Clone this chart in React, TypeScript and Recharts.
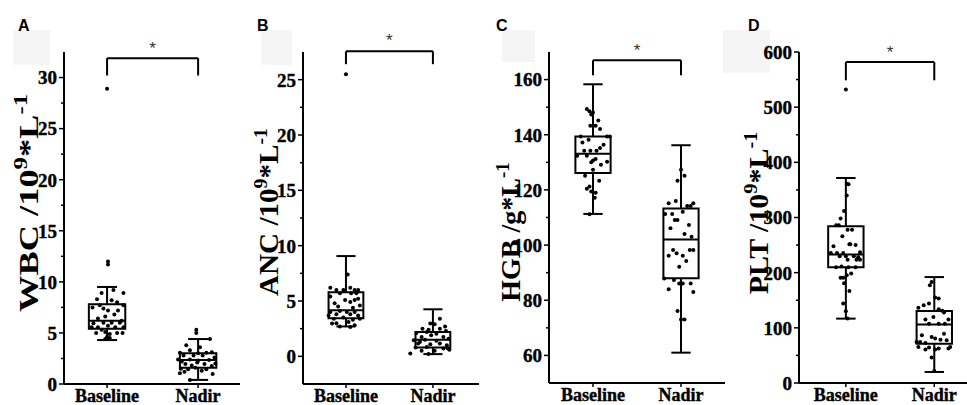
import React from 'react';
import { ComposedChart, Scatter, XAxis, YAxis, ReferenceArea, ReferenceLine, ReferenceDot } from 'recharts';

// ---------- data ----------
const categories = ['Baseline', 'Nadir'];

// [value, horizontal jitter in category units]
const wbcBaseline: [number, number][] = [
  [28.9, 0.0], [12.0, 0.01], [11.7, 0.01], [8.9, -0.06], [9.2, 0.07], [8.9, 0.18],
  [8.3, -0.11], [8.2, 0.05], [8.0, 0.11], [7.5, -0.16], [7.7, -0.08], [7.4, -0.04],
  [7.2, 0.01], [7.2, 0.12], [7.7, 0.18], [6.6, -0.02], [6.4, -0.1], [5.95, -0.15],
  [6.0, -0.04], [6.0, 0.05], [6.0, 0.14], [5.55, -0.17], [5.55, -0.1], [5.7, 0.01],
  [5.55, 0.09], [5.55, 0.18], [5.0, -0.12], [5.1, -0.02], [4.9, 0.03], [5.0, 0.11],
  [5.0, 0.17], [4.6, 0.0], [4.5, 0.03], [4.4, -0.02], [6.8, 0.08], [5.3, -0.06], [6.2, 0.16],
];
const wbcNadir: [number, number][] = [
  [5.3, -0.02], [5.0, -0.02], [4.4, 0.13], [3.8, -0.13], [3.6, 0.02], [3.3, -0.09],
  [3.07, -0.2], [3.07, 0.09], [3.1, 0.15], [2.8, -0.16], [2.8, -0.05], [2.8, 0.05],
  [2.4, -0.22], [2.4, -0.09], [2.3, 0.0], [2.35, 0.12], [1.96, -0.14], [2.1, -0.01],
  [1.96, 0.07], [1.76, 0.15], [1.5, -0.19], [1.45, -0.11], [1.6, -0.03], [1.45, 0.09],
  [1.05, -0.2], [1.2, -0.15], [0.98, 0.16], [0.4, -0.09], [2.6, 0.18], [2.2, -0.18],
  [1.8, -0.07], [3.0, 0.0], [1.3, 0.04], [2.0, 0.19],
];
// [lower whisker, Q1, median, Q3, upper whisker]
const wbcBaselineBox = [4.3, 5.4, 6.2, 7.8, 9.5];
const wbcNadirBox = [0.4, 1.6, 2.35, 3.0, 4.4];

const ancBaseline: [number, number][] = [
  [25.5, 0.0], [7.4, 0.02], [6.2, -0.18], [6.0, -0.11], [6.0, -0.03], [6.2, 0.05],
  [6.0, 0.1], [6.0, 0.14], [5.7, -0.07], [5.7, 0.06], [5.7, 0.12], [5.4, -0.18],
  [5.1, -0.01], [5.1, 0.1], [5.2, 0.14], [4.8, -0.13], [4.9, 0.05], [4.5, -0.09],
  [4.4, 0.08], [4.6, 0.16], [4.0, -0.18], [4.1, -0.07], [4.0, 0.01], [4.0, 0.1],
  [3.7, -0.2], [3.8, -0.11], [3.8, 0.05], [3.7, 0.14], [3.4, -0.14], [3.5, -0.03],
  [3.3, 0.08], [3.4, 0.16], [3.0, -0.11], [3.1, 0.03], [2.96, -0.16], [2.7, -0.07],
  [2.65, 0.05], [2.8, 0.1],
];
const ancNadir: [number, number][] = [
  [3.4, 0.08], [2.96, -0.03], [2.9, 0.02], [2.5, -0.12], [2.4, -0.05], [2.5, 0.08],
  [2.1, -0.19], [2.2, -0.07], [2.05, 0.04], [1.75, -0.13], [1.9, -0.02], [1.75, 0.12],
  [1.45, -0.22], [1.5, -0.09], [1.4, 0.04], [1.15, -0.17], [1.1, -0.03], [1.15, 0.08],
  [1.0, 0.16], [0.8, -0.2], [0.85, -0.07], [0.7, 0.12], [0.7, 0.17], [0.5, -0.13],
  [0.5, 0.02], [0.25, -0.26], [0.2, -0.05], [2.7, 0.14], [1.6, 0.18], [1.3, -0.15],
  [0.6, 0.19], [2.3, 0.15],
];
const ancBaselineBox = [2.7, 3.44, 4.17, 5.8, 9.06];
const ancNadirBox = [0.2, 0.8, 1.5, 2.2, 4.25];

const hgbBaseline: [number, number][] = [
  [149.3, -0.07], [148.5, -0.04], [148.1, 0.0], [147.3, -0.02], [145.2, 0.06], [143.3, -0.03],
  [143.3, 0.03], [142.1, 0.08], [139.4, -0.14], [139.4, 0.16], [139.4, 0.19], [137.2, -0.12],
  [138.2, -0.05], [136.4, 0.12], [135.2, 0.08], [134.2, -0.1], [134.2, -0.03], [134.2, 0.04],
  [132.4, -0.18], [132.4, -0.07], [130.7, 0.0], [131.2, 0.03], [130.0, -0.02], [129.1, 0.09],
  [130.2, 0.16], [127.3, 0.0], [125.1, -0.09], [123.3, 0.07], [121.2, -0.04], [120.4, -0.07],
  [119.4, -0.02], [119.0, 0.03], [117.2, 0.02], [111.2, -0.04],
];
const hgbNadir: [number, number][] = [
  [127.3, 0.0], [125.1, 0.04], [123.3, -0.04], [115.2, -0.14], [116.0, -0.06], [114.2, 0.07],
  [114.2, 0.11], [115.2, 0.14], [111.3, -0.18], [111.3, -0.1], [112.1, 0.02], [109.1, -0.07],
  [109.1, -0.04], [107.3, 0.09], [106.1, -0.12], [104.0, 0.04], [103.0, 0.12], [98.2, -0.09],
  [97.0, -0.05], [96.1, -0.14], [98.2, 0.1], [98.2, 0.14], [96.1, 0.02], [94.2, 0.06],
  [92.1, -0.02], [87.9, -0.19], [87.3, -0.08], [86.1, -0.02], [86.1, 0.02], [86.1, 0.11],
  [84.0, -0.14], [83.0, 0.14], [76.1, -0.04], [73.0, 0.04], [73.0, 0.0],
];
const hgbBaselineBox = [111.3, 126.1, 133.1, 139.4, 158.3];
const hgbNadirBox = [61, 88, 102, 113.3, 136.2];

const pltBaseline: [number, number][] = [
  [531.8, 0.0], [361.4, 0.01], [360.1, 0.03], [340, 0.01], [311.8, -0.02], [298, -0.06],
  [285.8, -0.11], [285.8, -0.08], [278, 0.02], [278, 0.07], [266, -0.04], [251.4, 0.04],
  [251.4, 0.05], [247.8, -0.14], [250, 0.11], [235.6, -0.17], [235.6, -0.1], [235.6, -0.03],
  [237, 0.16], [229.7, -0.07], [229.7, 0.0], [229.7, 0.09], [228, 0.14], [223.6, 0.02],
  [223.6, 0.12], [223.6, 0.16], [210, -0.11], [211, -0.05], [210, 0.03], [210, 0.11],
  [191, -0.06], [191, -0.03], [195.2, 0.01], [198.3, 0.06], [181, -0.02], [166.7, 0.04],
  [143.9, -0.03], [130, 0.0], [116.7, 0.02],
];
const pltNadir: [number, number][] = [
  [177, -0.05], [183, -0.03], [154.8, 0.01], [153, 0.05], [136.6, -0.18], [140.8, -0.12],
  [143.9, -0.06], [133.6, 0.05], [128, 0.11], [131, 0.09], [115, -0.1], [119.7, -0.01],
  [115, 0.16], [107.6, -0.06], [107.6, 0.05], [107.6, 0.12], [86.4, -0.14], [83.4, -0.03],
  [80.5, 0.01], [78.6, 0.07], [77.4, 0.14], [89.5, 0.11], [74.3, -0.2], [74.3, -0.16],
  [72.5, -0.1], [65.3, -0.18], [60.5, -0.1], [64.2, -0.06], [60.5, 0.01], [62.4, 0.05],
  [62.4, 0.16], [65.3, 0.18], [46, -0.03], [21.7, 0.0],
];
const pltBaselineBox = [116.7, 210, 233, 284, 371.6];
const pltNadirBox = [20, 71, 106, 130.5, 192];

const wbcTicks = [0, 5, 10, 15, 20, 25, 30];
const wbcMinor = [2.5, 7.5, 12.5, 17.5, 22.5, 27.5];
const ancTicks = [0, 5, 10, 15, 20, 25];
const ancMinor = [2.5, 7.5, 12.5, 17.5, 22.5];
const hgbTicks = [60, 80, 100, 120, 140, 160];
const hgbMinor = [70, 90, 110, 130, 150];
const pltTicks = [0, 100, 200, 300, 400, 500, 600];
const pltMinor = [50, 150, 250, 350, 450, 550];

// ---------- styling ----------
const INK = '#000000';
const SERIF = '"Liberation Serif", "Times New Roman", serif';
const SANS = '"Liberation Sans", Arial, sans-serif';
const AXIS_X = 64; // width reserved for the y-axis (chart-local x of its line)
const BOX_HALF = 0.2;
const CAP_HALF = 0.11;

type PanelCfg = {
  left: number;
  width: number;
  plotBottom: number;
  xDomain: [number, number];
  yDomain: [number, number];
  ticks: number[];
  minor: number[];
  groups: { pts: [number, number][]; box: number[] }[];
  labelParts: { t: string; sup?: boolean }[];
  labelX: number;
  labelY: number;
  labelStretch: number;
  bracket: [number, number];
  starY: number;
};

const panels: PanelCfg[] = [
  {
    left: 0, width: 240, plotBottom: 384, xDomain: [0.527, 2.46], yDomain: [0, 32.5],
    ticks: wbcTicks, minor: wbcMinor,
    groups: [{ pts: wbcBaseline, box: wbcBaselineBox }, { pts: wbcNadir, box: wbcNadirBox }],
    labelParts: [{ t: 'WBC /10' }, { t: '9', sup: true }, { t: '*L' }, { t: '-1', sup: true }],
    labelX: 38, labelY: 203, labelStretch: 1.3, bracket: [31.9, 30.2], starY: 33.3,
  },
  {
    left: 239, width: 240, plotBottom: 384, xDomain: [0.506, 2.53], yDomain: [-2.5, 27.5],
    ticks: ancTicks, minor: ancMinor,
    groups: [{ pts: ancBaseline, box: ancBaselineBox }, { pts: ancNadir, box: ancNadirBox }],
    labelParts: [{ t: 'ANC /10' }, { t: '9', sup: true }, { t: '*L' }, { t: '-1', sup: true }],
    labelX: 39, labelY: 212, labelStretch: 1.04, bracket: [27.56, 26.4], starY: 29.0,
  },
  {
    left: 485, width: 240, plotBottom: 383, xDomain: [0.5, 2.5], yDomain: [50, 170],
    ticks: hgbTicks, minor: hgbMinor,
    groups: [{ pts: hgbBaseline, box: hgbBaselineBox }, { pts: hgbNadir, box: hgbNadirBox }],
    labelParts: [{ t: 'HGB /g*L' }, { t: '-1', sup: true }],
    labelX: 35, labelY: 232, labelStretch: 1.0, bracket: [167, 161.6], starY: 172.4,
  },
  {
    left: 735, width: 232, plotBottom: 383, xDomain: [0.47, 2.37], yDomain: [0, 600],
    ticks: pltTicks, minor: pltMinor,
    groups: [{ pts: pltBaseline, box: pltBaselineBox }, { pts: pltNadir, box: pltNadirBox }],
    labelParts: [{ t: 'PLT /10' }, { t: '9', sup: true }, { t: '*L' }, { t: '-1', sup: true }],
    labelX: 33, labelY: 213, labelStretch: 1.07, bracket: [581.8, 548.7], starY: 608,
  },
];

const letters = [
  { t: 'A', x: 18 }, { t: 'B', x: 257 }, { t: 'C', x: 496 }, { t: 'D', x: 748 },
];
const shades = [
  { x: 13, y: 30, w: 37, h: 35 }, { x: 261, y: 30, w: 31, h: 35 },
  { x: 502, y: 30, w: 33, h: 32 }, { x: 723, y: 30, w: 47, h: 43 },
];

function YLabel({ cfg }: { cfg: PanelCfg }) {
  let dyState = 0;
  return (
    <text
      transform={`translate(${cfg.labelX},${cfg.labelY}) rotate(-90) scale(${cfg.labelStretch},1)`}
      textAnchor="middle"
      fontFamily={SERIF}
      fontWeight="bold"
      fontSize={28}
      fill={INK}
    >
      {cfg.labelParts.map((p, i) => {
        const target = p.sup ? -11 : 0;
        const dy = target - dyState;
        dyState = target;
        return (
          <tspan key={i} dy={dy} fontSize={p.sup ? 19 : 28}>
            {p.t}
          </tspan>
        );
      })}
    </text>
  );
}

function makeYTick(majors: number[]) {
  return (p: any) => {
    const v = p.payload.value;
    const major = majors.includes(v);
    return (
      <g>
        <line x1={AXIS_X - (major ? 5 : 3)} x2={AXIS_X} y1={p.y} y2={p.y} stroke={INK} strokeWidth={1.5} />
        {major && (
          <text
            x={AXIS_X - 7}
            y={p.y}
            dy="0.36em"
            textAnchor="end"
            fontFamily={SERIF}
            fontWeight="bold"
            fontSize={19}
            fill={INK}
            stroke={INK}
            strokeWidth={0.4}
          >
            {v}
          </text>
        )}
      </g>
    );
  };
}

function XTick(p: any) {
  return (
    <text
      x={p.x}
      y={p.y}
      dy="0.71em"
      textAnchor="middle"
      fontFamily={SERIF}
      fontWeight="bold"
      fontSize={18}
      fill={INK}
      stroke={INK}
      strokeWidth={0.4}
    >
      {categories[Math.round(p.payload.value) - 1]}
    </text>
  );
}

function Panel({ cfg }: { cfg: PanelCfg }) {
  const xAxisHeight = 405 - cfg.plotBottom;
  const allTicks = [...cfg.ticks, ...cfg.minor].sort((a, b) => a - b);
  const data = cfg.groups.flatMap((g, gi) =>
    g.pts.map(([v, dx]) => ({ x: gi + 1 + dx, y: v }))
  );
  const lineProps = { stroke: INK, strokeWidth: 2, ifOverflow: 'visible' as const };
  return (
    <div style={{ position: 'absolute', left: cfg.left, top: 0 }}>
      <ComposedChart width={cfg.width} height={405} margin={{ top: 52, right: 0, bottom: 0, left: 0 }}>
        <XAxis
          type="number"
          dataKey="x"
          domain={cfg.xDomain}
          ticks={[1, 2]}
          interval={0}
          allowDataOverflow
          height={xAxisHeight}
          stroke={INK}
          axisLine={{ stroke: INK, strokeWidth: 2 }}
          tickLine={{ stroke: INK, strokeWidth: 1.5 }}
          tickSize={4}
          tickMargin={1}
          tick={XTick}
        />
        <YAxis
          type="number"
          dataKey="y"
          domain={cfg.yDomain}
          ticks={allTicks}
          interval={0}
          allowDataOverflow
          width={AXIS_X}
          stroke={INK}
          tickSize={5}
          tickMargin={2}
          tickLine={false}
          axisLine={{ stroke: INK, strokeWidth: 2 }}
          tick={makeYTick(cfg.ticks)}
          label={{ content: () => <YLabel cfg={cfg} /> }}
        />
        {cfg.groups.map((g, gi) => {
          const c = gi + 1;
          const [lo, q1, med, q3, hi] = g.box;
          return (
            <React.Fragment key={gi}>
              <ReferenceArea x1={c - BOX_HALF} x2={c + BOX_HALF} y1={q1} y2={q3} fill="none" fillOpacity={0} stroke={INK} strokeWidth={2} strokeOpacity={1} ifOverflow="visible" />
              <ReferenceLine segment={[{ x: c - BOX_HALF, y: med }, { x: c + BOX_HALF, y: med }]} {...lineProps} />
              <ReferenceLine segment={[{ x: c, y: q3 }, { x: c, y: hi }]} {...lineProps} />
              <ReferenceLine segment={[{ x: c, y: lo }, { x: c, y: q1 }]} {...lineProps} />
              <ReferenceLine segment={[{ x: c - CAP_HALF, y: hi }, { x: c + CAP_HALF, y: hi }]} {...lineProps} />
              <ReferenceLine segment={[{ x: c - CAP_HALF, y: lo }, { x: c + CAP_HALF, y: lo }]} {...lineProps} />
            </React.Fragment>
          );
        })}
        <ReferenceLine segment={[{ x: 1, y: cfg.bracket[0] }, { x: 2, y: cfg.bracket[0] }]} {...lineProps} />
        <ReferenceLine segment={[{ x: 1, y: cfg.bracket[1] }, { x: 1, y: cfg.bracket[0] }]} {...lineProps} />
        <ReferenceLine segment={[{ x: 2, y: cfg.bracket[1] }, { x: 2, y: cfg.bracket[0] }]} {...lineProps} />
        <ReferenceDot
          x={1.5}
          y={cfg.starY}
          r={0}
          ifOverflow="visible"
          shape={(p: any) => (
            <text x={p.cx} y={p.cy} dy="0.6em" textAnchor="middle" fontFamily={SANS} fontSize={17} fill="#333">
              *
            </text>
          )}
        />
        <Scatter
          data={data}
          dataKey="y"
          isAnimationActive={false}
          shape={(p: any) => <circle cx={p.cx} cy={p.cy} r={2} fill={INK} />}
        />
      </ComposedChart>
    </div>
  );
}

export default function App() {
  return (
    <div style={{ position: 'absolute', left: 0, top: 0, width: 967, height: 405, background: '#fff', overflow: 'hidden' }}>
      <svg width={967} height={405} style={{ position: 'absolute', left: 0, top: 0 }}>
        {shades.map((s, i) => (
          <rect key={i} x={s.x} y={s.y} width={s.w} height={s.h} fill="#f5f5f5" />
        ))}
        {letters.map((l) => (
          <text key={l.t} x={l.x} y={31} fontFamily={SANS} fontWeight="bold" fontSize={16} fill={INK}>
            {l.t}
          </text>
        ))}
      </svg>
      {panels.map((p, i) => (
        <Panel key={i} cfg={p} />
      ))}
    </div>
  );
}
